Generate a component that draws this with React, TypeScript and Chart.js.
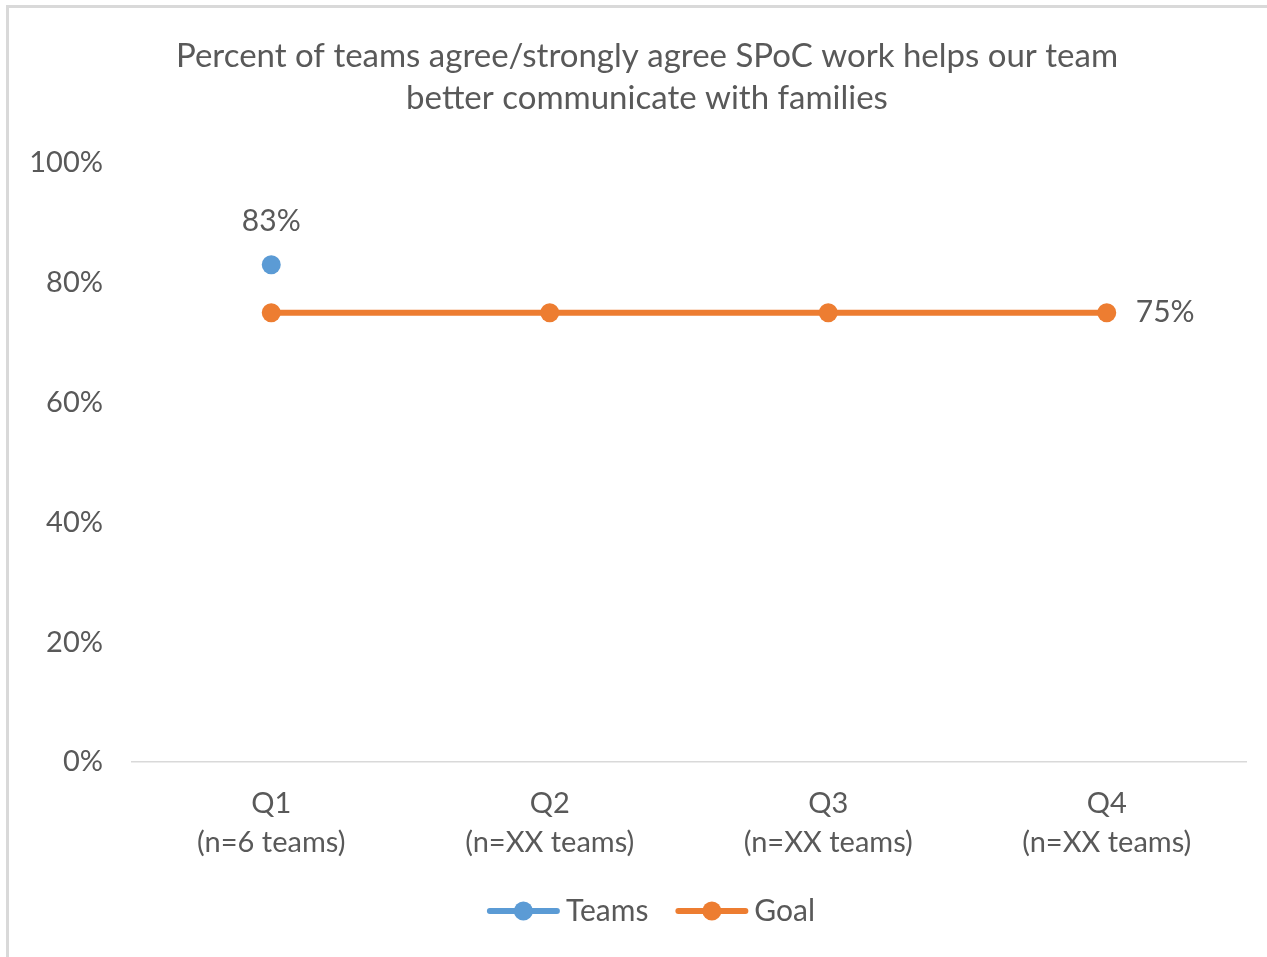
import React, { useEffect, useRef } from 'react';
import { Chart, registerables } from 'chart.js';

Chart.register(...registerables);

const titleLines = [
  'Percent of teams agree/strongly agree SPoC work helps our team',
  'better communicate with families',
];
const categories = [
  ['Q1', '(n=6 teams)'],
  ['Q2', '(n=XX teams)'],
  ['Q3', '(n=XX teams)'],
  ['Q4', '(n=XX teams)'],
];
const seriesNames = ['Teams', 'Goal'];
const seriesColors = ['#5B9BD5', '#ED7D31'];
const teamsValues: (number | null)[] = [83, null, null, null];
const goalValues: (number | null)[] = [75, 75, 75, 75];
const yTicks = [0, 20, 40, 60, 80, 100];

const TEXT = '#595959';
const FONT = 'Lato, "Open Sans", sans-serif';

const W = 1267;
const H = 957;

const titlePlugin = {
  id: 'customTitle',
  afterDraw(chart: any) {
    const ctx = chart.ctx;
    ctx.save();
    ctx.fillStyle = TEXT;
    ctx.font = `33px ${FONT}`;
    ctx.textAlign = 'center';
    ctx.textBaseline = 'middle';
    titleLines.forEach((line, i) => {
      ctx.fillText(line, 647, 56 + i * 42);
    });
    ctx.restore();
  },
};

const labelsPlugin = {
  id: 'valueLabels',
  afterDatasetsDraw(chart: any) {
    const ctx = chart.ctx;
    ctx.save();
    ctx.fillStyle = TEXT;
    ctx.font = `30px ${FONT}`;
    ctx.textBaseline = 'middle';
    const m0 = chart.getDatasetMeta(0);
    teamsValues.forEach((v, i) => {
      if (v == null) return;
      const p = m0.data[i];
      ctx.textAlign = 'center';
      ctx.fillText(`${v}%`, p.x, p.y - 44);
    });
    const m1 = chart.getDatasetMeta(1);
    const last = goalValues.length - 1;
    const p = m1.data[last];
    ctx.textAlign = 'left';
    ctx.fillText(`${goalValues[last]}%`, p.x + 29, p.y);
    ctx.restore();
  },
};

const legendPlugin = {
  id: 'lineLegend',
  afterDraw(chart: any) {
    const ctx = chart.ctx;
    ctx.save();
    ctx.font = `30px ${FONT}`;
    const symW = 73;
    const gapText = 6;
    const gapItem = 27;
    const widths = seriesNames.map((n) => ctx.measureText(n).width);
    const total = widths.reduce((a, w) => a + symW + gapText + w, 0) + gapItem * (seriesNames.length - 1);
    let x = 651 - total / 2;
    const y = 911;
    seriesNames.forEach((name, i) => {
      ctx.strokeStyle = seriesColors[i];
      ctx.lineWidth = 6;
      ctx.lineCap = 'round';
      ctx.beginPath();
      ctx.moveTo(x + 3, y);
      ctx.lineTo(x + symW - 3, y);
      ctx.stroke();
      ctx.fillStyle = seriesColors[i];
      ctx.beginPath();
      ctx.arc(x + symW / 2, y, 9.5, 0, Math.PI * 2);
      ctx.fill();
      ctx.fillStyle = TEXT;
      ctx.textAlign = 'left';
      ctx.textBaseline = 'middle';
      ctx.fillText(name, x + symW + gapText, y);
      x += symW + gapText + widths[i] + gapItem;
    });
    ctx.restore();
  },
};

export default function App() {
  const ref = useRef<HTMLCanvasElement | null>(null);

  useEffect(() => {
    if (!ref.current) return;
    const chart = new Chart(ref.current, {
      type: 'line',
      data: {
        labels: categories,
        datasets: [
          {
            label: seriesNames[0],
            data: teamsValues,
            borderColor: seriesColors[0],
            backgroundColor: seriesColors[0],
            borderWidth: 6,
            pointRadius: 9.5,
            pointHoverRadius: 9.5,
            pointBorderWidth: 0,
            spanGaps: false,
          },
          {
            label: seriesNames[1],
            data: goalValues,
            borderColor: seriesColors[1],
            backgroundColor: seriesColors[1],
            borderWidth: 6,
            pointRadius: 9.5,
            pointHoverRadius: 9.5,
            pointBorderWidth: 0,
          },
        ],
      },
      options: {
        responsive: false,
        animation: false,
        layout: { padding: { left: 0, right: 21, top: 163, bottom: 75 } },
        plugins: {
          legend: { display: false },
          tooltip: { enabled: false },
          title: { display: false },
        },
        scales: {
          x: {
            offset: true,
            grid: { display: false, drawTicks: false },
            border: { display: true, color: '#D9D9D9', width: 1.5 },
            ticks: {
              color: TEXT,
              font: { family: FONT, size: 29, lineHeight: '39px' },
              padding: 22,
              maxRotation: 0,
              autoSkip: false,
            },
            afterFit: (s: any) => {
              s.height = 120;
            },
          },
          y: {
            min: yTicks[0],
            max: yTicks[yTicks.length - 1],
            afterBuildTicks: (s: any) => {
              s.ticks = yTicks.map((v) => ({ value: v }));
            },
            grid: { display: false, drawTicks: false },
            border: { display: false },
            ticks: {
              color: TEXT,
              font: { family: FONT, size: 29 },
              padding: 29,
              callback: (v: any) => `${v}%`,
            },
            afterFit: (s: any) => {
              s.width = 132;
            },
          },
        },
      },
      plugins: [titlePlugin, labelsPlugin, legendPlugin],
    });
    return () => chart.destroy();
  }, []);

  return (
    <div style={{ position: 'absolute', left: 0, top: 0, width: W, height: H, background: '#fff' }}>
      <div
        style={{
          position: 'absolute',
          left: 6,
          top: 5,
          width: W - 6,
          height: H - 5,
          borderTop: '3px solid #D9D9D9',
          borderLeft: '3px solid #D9D9D9',
          boxSizing: 'border-box',
        }}
      />
      <canvas ref={ref} width={W} height={H} style={{ position: 'absolute', left: 0, top: 0, width: W, height: H }} />
    </div>
  );
}
